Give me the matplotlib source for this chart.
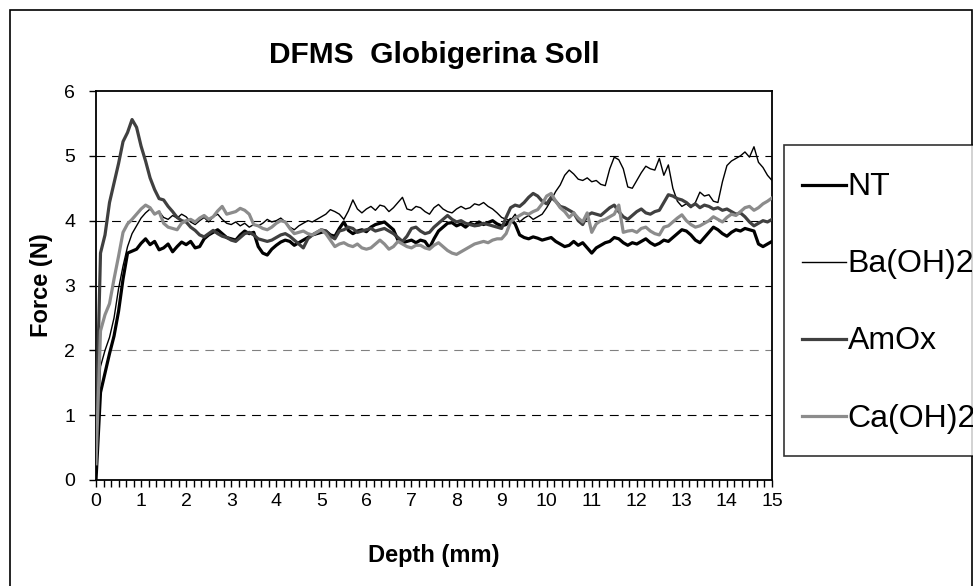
import numpy as np
import matplotlib
matplotlib.use("Agg")
import matplotlib.pyplot as plt
from matplotlib.ticker import MultipleLocator
from matplotlib.patches import Rectangle

plt.rcParams['font.family'] = ['Liberation Sans', 'DejaVu Sans']

# Depth (mm), step 0.1 from 0 to 15
depth = [round(i * 0.1, 1) for i in range(151)]

nt = [0.00, 1.35, 1.65, 1.95, 2.22, 2.60, 3.10, 3.50, 3.53, 3.56,
      3.65, 3.72, 3.63, 3.68, 3.55, 3.58, 3.64, 3.52, 3.60, 3.67,
      3.63, 3.68, 3.58, 3.60, 3.72, 3.78, 3.82, 3.86, 3.80, 3.74,
      3.72, 3.70, 3.78, 3.84, 3.80, 3.82, 3.60, 3.50, 3.47, 3.56,
      3.62, 3.67, 3.70, 3.68, 3.62, 3.66, 3.70, 3.74, 3.78, 3.80,
      3.82, 3.84, 3.78, 3.76, 3.88, 3.98, 3.85, 3.80, 3.84, 3.86,
      3.83, 3.90, 3.94, 3.96, 3.98, 3.92, 3.86, 3.70, 3.66, 3.68,
      3.70, 3.66, 3.70, 3.68, 3.58, 3.72, 3.84, 3.90, 3.96, 3.97,
      3.92, 3.95, 3.90, 3.96, 3.93, 3.98, 3.94, 3.97, 4.00, 3.95,
      3.92, 3.94, 4.02, 3.95, 3.78, 3.74, 3.72, 3.75, 3.73, 3.70,
      3.72, 3.74, 3.68, 3.64, 3.60, 3.62, 3.68, 3.62, 3.66, 3.58,
      3.50, 3.58, 3.62, 3.66, 3.68, 3.74, 3.72, 3.66, 3.62, 3.66,
      3.64, 3.68, 3.72, 3.66, 3.62, 3.65, 3.70, 3.68, 3.74, 3.80,
      3.86, 3.84, 3.78, 3.70, 3.66, 3.74, 3.82, 3.90, 3.86, 3.80,
      3.76, 3.82, 3.86, 3.84, 3.88, 3.86, 3.84, 3.64, 3.60, 3.64,
      3.68]

ba_oh2 = [0.30, 1.75, 2.00, 2.20, 2.50, 2.95, 3.30, 3.60, 3.80, 3.92,
          4.04, 4.12, 4.18, 4.10, 4.14, 4.05, 4.02, 4.08, 4.04, 4.10,
          4.06, 3.98, 3.94, 4.00, 4.05, 3.98, 4.06, 4.10, 4.02, 3.96,
          3.94, 3.98, 3.92, 3.96, 3.90, 3.94, 3.92, 3.96, 4.02, 3.98,
          4.00, 4.04, 3.98, 3.90, 3.86, 3.92, 3.96, 4.00, 3.98, 4.02,
          4.06, 4.10, 4.17, 4.14, 4.10, 4.02, 4.15, 4.32, 4.18, 4.12,
          4.18, 4.22, 4.16, 4.24, 4.22, 4.14, 4.20, 4.28, 4.36, 4.18,
          4.16, 4.22, 4.20, 4.14, 4.10, 4.20, 4.25, 4.18, 4.14, 4.12,
          4.18, 4.22, 4.18, 4.20, 4.26, 4.24, 4.28, 4.22, 4.18, 4.12,
          4.05, 4.02, 4.00, 4.10, 3.98, 4.04, 4.08, 4.02, 4.06, 4.10,
          4.20, 4.32, 4.45, 4.55, 4.70, 4.78, 4.72, 4.64, 4.62, 4.66,
          4.60, 4.62, 4.56, 4.54, 4.80, 4.98, 4.94, 4.80, 4.52, 4.50,
          4.62, 4.74, 4.84, 4.80, 4.78, 4.96, 4.70, 4.86, 4.50, 4.30,
          4.22, 4.26, 4.20, 4.28, 4.44, 4.38, 4.40, 4.30, 4.28, 4.60,
          4.85, 4.92, 4.96, 5.00, 5.06, 4.98, 5.14, 4.90, 4.82, 4.70,
          4.62]

amox = [0.70, 3.50, 3.78, 4.28, 4.58, 4.88, 5.22, 5.36, 5.56, 5.44,
        5.15, 4.92, 4.66, 4.48, 4.34, 4.32, 4.22, 4.14, 4.05, 4.00,
        3.98, 3.90, 3.85, 3.78, 3.75, 3.80, 3.85, 3.80, 3.76, 3.74,
        3.70, 3.68, 3.74, 3.80, 3.82, 3.78, 3.72, 3.70, 3.68, 3.70,
        3.74, 3.78, 3.80, 3.76, 3.70, 3.64, 3.58, 3.72, 3.78, 3.82,
        3.86, 3.84, 3.76, 3.72, 3.84, 3.86, 3.90, 3.88, 3.82, 3.84,
        3.86, 3.88, 3.84, 3.86, 3.88, 3.84, 3.80, 3.74, 3.68, 3.76,
        3.88, 3.90, 3.84, 3.80, 3.82, 3.90, 3.96, 4.02, 4.08, 4.02,
        3.98, 4.00, 3.96, 3.94, 3.92, 3.93, 3.96, 3.94, 3.92, 3.90,
        3.88, 4.05, 4.20, 4.24, 4.22, 4.28, 4.36, 4.42, 4.38, 4.30,
        4.26, 4.36, 4.30, 4.22, 4.20, 4.16, 4.12, 4.00, 3.94, 4.08,
        4.12, 4.10, 4.08, 4.14, 4.20, 4.24, 4.14, 4.06, 4.02, 4.08,
        4.14, 4.18, 4.12, 4.10, 4.14, 4.16, 4.28, 4.40, 4.38, 4.34,
        4.32, 4.28, 4.22, 4.26, 4.20, 4.24, 4.22, 4.18, 4.20, 4.16,
        4.18, 4.14, 4.10, 4.12, 4.06, 3.98, 3.92, 3.96, 4.00, 3.98,
        4.02]

ca_oh2 = [0.25, 2.30, 2.55, 2.72, 3.10, 3.45, 3.82, 3.95, 4.02, 4.10,
          4.18, 4.24, 4.20, 4.10, 4.14, 3.96, 3.90, 3.88, 3.86, 3.96,
          4.00, 4.02, 3.98, 4.04, 4.08, 4.02, 4.06, 4.15, 4.22, 4.10,
          4.12, 4.14, 4.19, 4.16, 4.10, 3.94, 3.92, 3.88, 3.86, 3.90,
          3.96, 4.00, 3.98, 3.88, 3.80, 3.82, 3.84, 3.80, 3.78, 3.82,
          3.86, 3.80, 3.70, 3.60, 3.64, 3.66, 3.62, 3.60, 3.64, 3.58,
          3.56, 3.58, 3.64, 3.70, 3.64, 3.56, 3.60, 3.68, 3.64, 3.60,
          3.58, 3.62, 3.62, 3.58, 3.56, 3.62, 3.66, 3.60, 3.54, 3.50,
          3.48, 3.52, 3.56, 3.60, 3.64, 3.66, 3.68, 3.66, 3.70, 3.72,
          3.72, 3.80, 3.98, 4.04, 4.08, 4.12, 4.10, 4.14, 4.17, 4.26,
          4.38, 4.42, 4.30, 4.20, 4.14, 4.05, 4.12, 4.04, 3.98, 4.12,
          3.82, 3.95, 4.00, 4.02, 4.06, 4.10, 4.24, 3.82, 3.84, 3.85,
          3.82, 3.88, 3.90, 3.84, 3.80, 3.78, 3.90, 3.92, 3.98, 4.04,
          4.09, 4.00, 3.94, 3.90, 3.92, 3.96, 4.00, 4.06, 4.02, 3.98,
          4.05, 4.10, 4.08, 4.14, 4.20, 4.22, 4.16, 4.20, 4.26, 4.30,
          4.35]

series_names = ['NT', 'Ba(OH)2', 'AmOx', 'Ca(OH)2']
x_ticks = list(range(0, 16))
y_ticks = list(range(0, 7))

W, H = 973, 586
fig = plt.figure(figsize=(W / 100, H / 100), dpi=100)
fig.patch.set_facecolor('white')

# outer chart border
fig.patches.append(Rectangle((10 / W, -0.05), (971.5 - 10) / W, 1.05 - 10 / H,
                             transform=fig.transFigure, fill=False,
                             edgecolor='black', linewidth=1.2))

ax = fig.add_axes([96 / W, 1 - 480 / H, (772 - 96) / W, (480 - 91) / H])

ax.plot(depth, nt, color='black', lw=2.3, label=series_names[0], zorder=3)
ax.plot(depth, ba_oh2, color='black', lw=1.0, label=series_names[1], zorder=4)
ax.plot(depth, amox, color='#404040', lw=2.3, label=series_names[2], zorder=5)
ax.plot(depth, ca_oh2, color='#8c8c8c', lw=2.3, label=series_names[3], zorder=6)

ax.set_xlim(0, 15)
ax.set_ylim(0, 6)
ax.set_xticks(x_ticks)
ax.set_yticks(y_ticks)
ax.xaxis.set_minor_locator(MultipleLocator(1 / 6))
ax.tick_params(axis='both', which='major', direction='out', length=5,
               width=1, labelsize=14, color='black')
ax.tick_params(axis='x', which='minor', direction='out', length=5, width=1)
ax.tick_params(axis='x', pad=4)
ax.tick_params(axis='y', pad=10)

for yv in y_ticks[1:-1]:
    gc = '#808080' if yv == 2 else 'black'
    ax.axhline(yv, color=gc, lw=0.8, ls=(0, (8, 6)), zorder=1)

for s in ax.spines.values():
    s.set_linewidth(1.3)
    s.set_color('black')

ax.set_title('DFMS  Globigerina Soll', fontsize=21.5, fontweight='bold', pad=20)
ax.set_xlabel('Depth (mm)', fontsize=17, fontweight='bold', labelpad=25)
ax.set_ylabel('Force (N)', fontsize=17, fontweight='bold', labelpad=8)

leg = fig.legend(loc='upper left', bbox_to_anchor=(784 / W, 1 - 145 / H),
                 fontsize=23, frameon=True, fancybox=False, edgecolor='black',
                 handlelength=1.38, handleheight=1.75, handletextpad=0.05,
                 labelspacing=1.03, borderpad=0.56, borderaxespad=0)
leg.get_frame().set_linewidth(1.2)
# centre the legend line samples on the text
for ln in leg.get_lines():
    ln.set_ydata(np.asarray(ln.get_ydata(), dtype=float) - 4.0)

fig.savefig('out.png', dpi=100)
